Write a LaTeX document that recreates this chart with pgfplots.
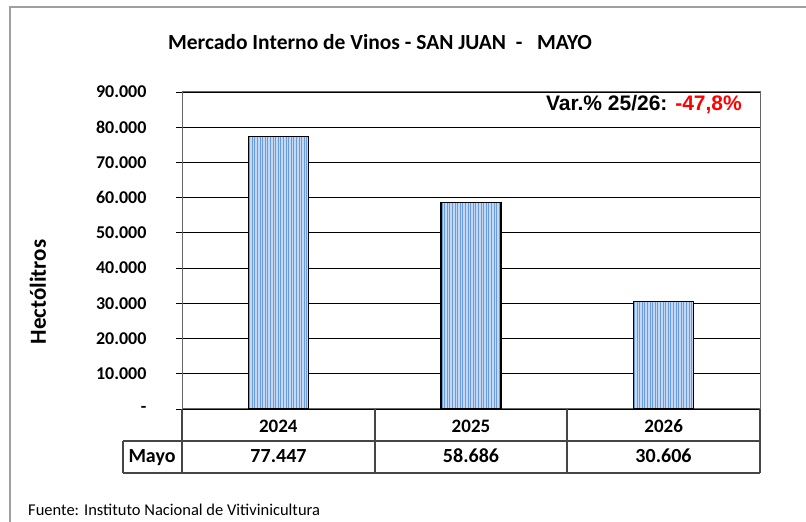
\documentclass[border=0pt]{standalone}
\usepackage{fontspec}
\setmainfont{Carlito}
\newfontfamily\arial{Liberation Sans}
\usepackage{pgfplots}
\pgfplotsset{compat=1.18}
\usetikzlibrary{patterns.meta}
\definecolor{barfill}{RGB}{196,216,244}
\definecolor{barline}{RGB}{105,156,222}
\definecolor{tabline}{RGB}{70,70,70}
\definecolor{varred}{RGB}{255,0,0}
\begin{document}
\begin{tikzpicture}[x=1pt,y=1pt]
\useasboundingbox (0,0) rectangle (806,522);
\draw[gray!75, line width=1.3pt] (10,0) -- (10,515) -- (806,515);
\begin{axis}[
  at={(182pt,113pt)}, anchor=south west,
  scale only axis, width=578pt, height=317pt,
  xmin=-0.5, xmax=2.5, ymin=0, ymax=90000,
  axis line style={draw=gray!80!black, line width=1pt},
  xtick={0,1,2}, xticklabels={2024,2025,2026},
  xtick style={draw=none},
  xticklabel style={anchor=base, yshift=-18pt, font=\fontsize{19}{21}\selectfont\bfseries},
  ytick={0,10000,...,90000},
  yticklabels={-,10.000,20.000,30.000,40.000,50.000,60.000,70.000,80.000,90.000},
  scaled y ticks=false,
  ytick pos=left, xtick pos=bottom,
  tick align=outside, major tick length=6pt,
  ytick style={draw=black, line width=0.8pt},
  yticklabel style={anchor=east, xshift=-26pt, font=\fontsize{18}{20}\selectfont\bfseries},
  /pgf/number format/assume math mode=true,
  ymajorgrids, grid style={black, line width=0.8pt},
  clip=false,
]
\addplot[ybar, bar width=60pt, draw=black, line width=1.3pt, fill=barfill,
  postaction={pattern={Lines[angle=90,distance=2.6pt,line width=0.75pt]}, pattern color=barline}]
  coordinates {(0,77447) (1,58686) (2,30606)};
\end{axis}
% data table
\draw[tabline, line width=1.2pt] (182,113) -- (182,49);
\draw[tabline, line width=1.2pt] (375,113) -- (375,49);
\draw[tabline, line width=1.2pt] (567,113) -- (567,49);
\draw[tabline, line width=1.2pt] (760,113) -- (760,49);
\draw[tabline, line width=1.2pt] (123,81) -- (760,81);
\draw[tabline, line width=1.2pt] (123,49) -- (760,49);
\draw[tabline, line width=1.2pt] (123,81) -- (123,49);
\node[anchor=base, font=\fontsize{20}{22}\selectfont\bfseries] at (152,59) {Mayo};
\node[anchor=base, font=\fontsize{20}{22}\selectfont\bfseries] at (278.5,59) {77.447};
\node[anchor=base, font=\fontsize{20}{22}\selectfont\bfseries] at (471,59) {58.686};
\node[anchor=base, font=\fontsize{20}{22}\selectfont\bfseries] at (663.5,59) {30.606};
% title
\node[font=\fontsize{21.5}{24}\selectfont\bfseries] at (380,480) {Mercado Interno de Vinos - SAN JUAN\ \ -\ \ \ MAYO};
% y label
\node[rotate=90, font=\fontsize{23}{25}\selectfont\bfseries] at (38,230) {Hectólitros};
% variation annotation
\node[anchor=east, inner sep=0pt, font=\arial\fontsize{21}{23}\selectfont\bfseries] at (742,417) {Var.\%\ 25/26: \textcolor{varred}{-47,8\%}};
% source
\node[anchor=base west, inner sep=0pt, font=\fontsize{16.5}{18}\selectfont] at (28,6) {Fuente: Instituto Nacional de Vitivinicultura};
\end{tikzpicture}
\end{document}
